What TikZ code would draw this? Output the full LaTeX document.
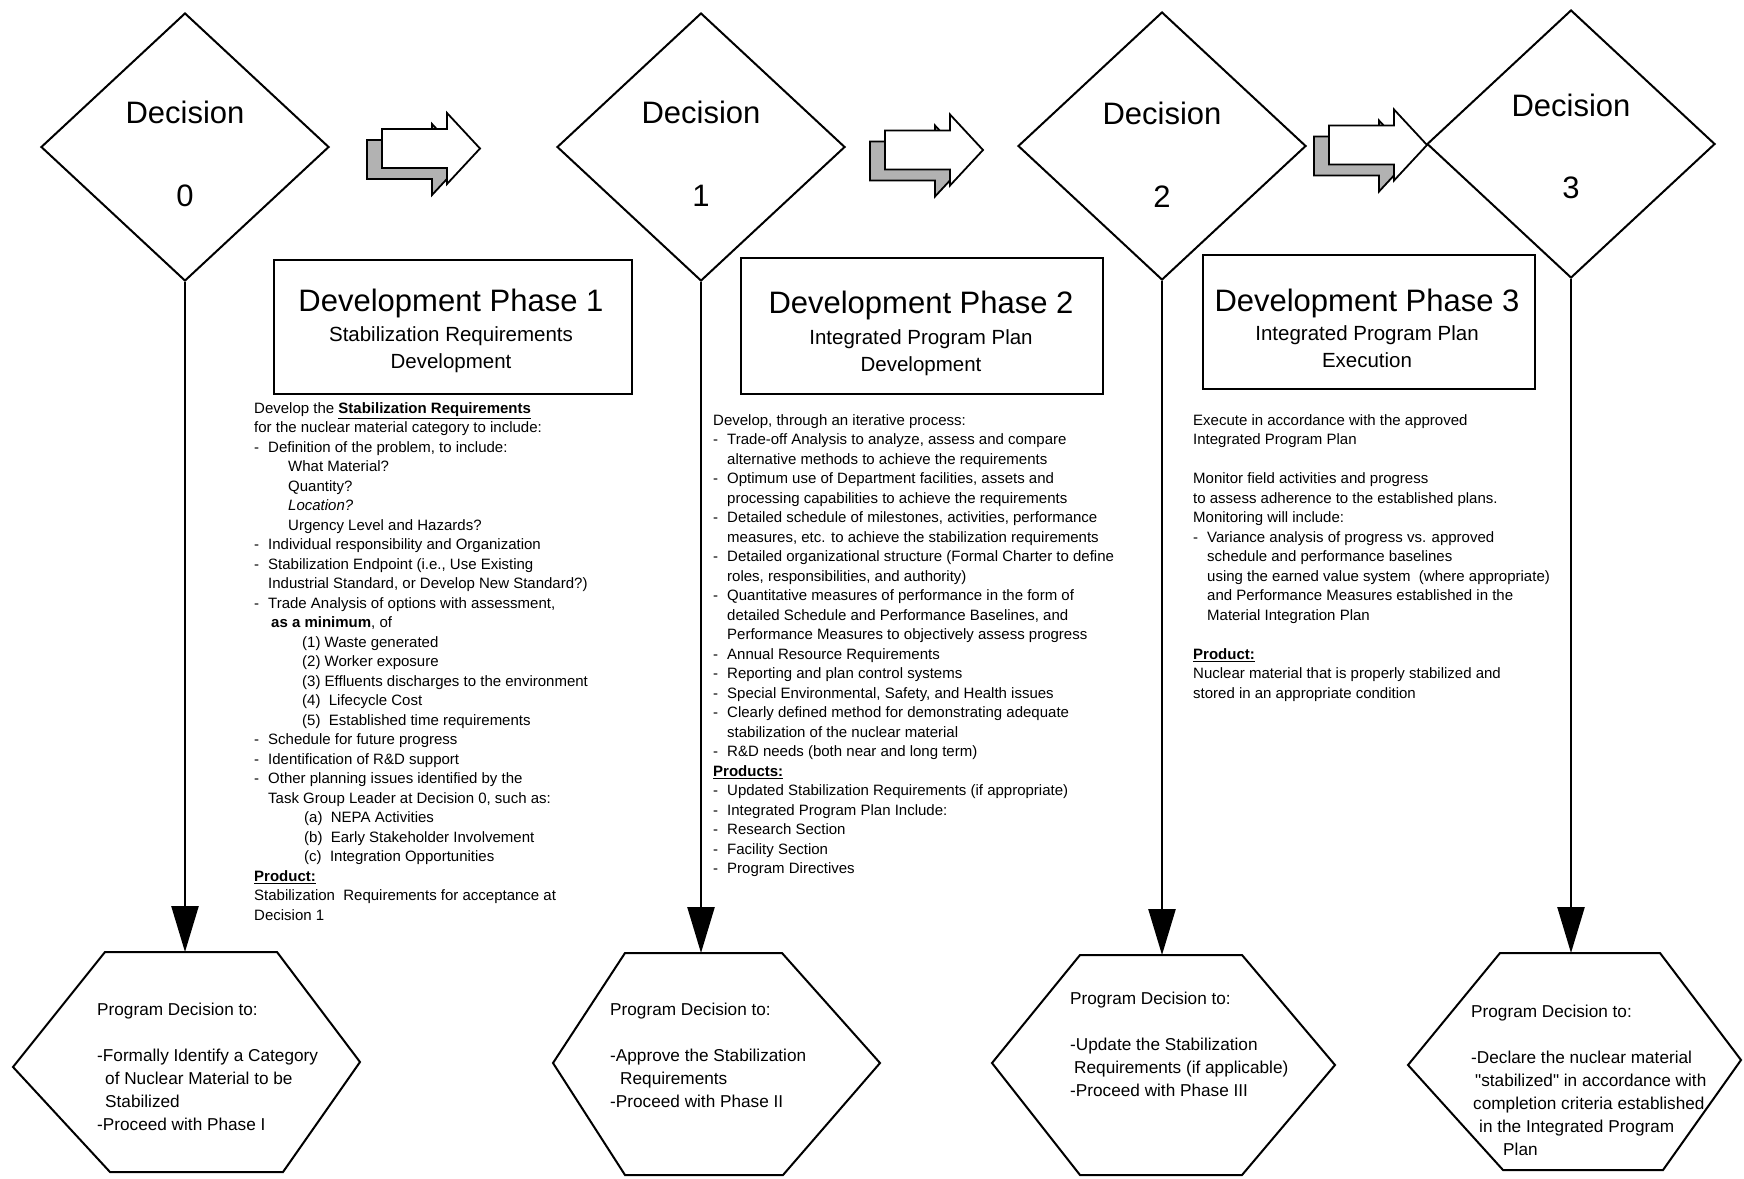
\documentclass[tikz,border=0pt]{standalone}
\usepackage{fontspec}
\setmainfont{Liberation Sans}
\usetikzlibrary{shapes.geometric,arrows.meta}
\newcommand{\dashitem}{\makebox[14pt][l]{-}}
\newcommand{\myind}{\hspace*{14pt}}
\newcommand{\bu}[1]{\underline{\textbf{#1}}}
\begin{document}
\begin{tikzpicture}[x=1pt,y=-1pt,
  decision/.style={draw,shape=diamond,minimum width=288pt,minimum height=268pt,inner sep=0pt,line width=2pt},
  dectext/.style={font=\fontsize{31}{31}\selectfont,inner sep=0pt},
  phasebox/.style={draw,rectangle,line width=2.4pt,inner sep=0pt},
  phasetitle/.style={font=\fontsize{31}{31}\selectfont,inner sep=0pt,anchor=base},
  phasesub/.style={font=\fontsize{20.5}{27.5}\selectfont,inner sep=0pt,anchor=north,align=center},
  bodytext/.style={font=\fontsize{15}{19.5}\selectfont,inner sep=0pt,anchor=north west,align=left},
  hextext/.style={font=\fontsize{17.2}{23}\selectfont,inner sep=0pt,anchor=north west,align=left},
  hexshape/.style={draw,line width=2pt,line join=miter},
  vline/.style={line width=2.5pt,-{Triangle[length=46pt,width=27pt]}},
  arrowshadow/.style={draw,line width=1.8pt,fill=black!30,line join=miter},
  arrowface/.style={draw,line width=1.8pt,fill=white,line join=miter},
  blockarrow/.pic={
    \path[arrowshadow] (-15,-8.5) -- (50,-8.5) -- (50,-24.5) -- (83,11) -- (50,46.5) -- (50,30.5) -- (-15,30.5) -- cycle;
    \path[arrowface] (0,-19.5) -- (65,-19.5) -- (65,-35.5) -- (98,0) -- (65,35.5) -- (65,19.5) -- (0,19.5) -- cycle;
  }
]
\useasboundingbox[fill=white] (0,0) rectangle (1744,1178);

% block arrows
\pic (arrA) at (382,148.5) {blockarrow};
\pic (arrB) at (885,150) {blockarrow};
\pic (arrC) at (1329,145) {blockarrow};

% decision diamonds
\node[decision] (d0) at (185,147) {};
\node[decision] (d1) at (701,147) {};
\node[decision] (d2) at (1162,146) {};
\node[decision] (d3) at (1571,144) {};
\node[dectext] (d0a) at (185,112) {Decision};
\node[dectext] (d0b) at (185,196) {0};
\node[dectext] (d1a) at (701,112) {Decision};
\node[dectext] (d1b) at (701,196) {1};
\node[dectext] (d2a) at (1162,113) {Decision};
\node[dectext] (d2b) at (1162,197) {2};
\node[dectext] (d3a) at (1571,105) {Decision};
\node[dectext] (d3b) at (1571,188) {3};

% phase boxes
\node[phasebox,minimum width=358pt,minimum height=134pt] (p1) at (453,327) {};
\node[phasebox,minimum width=362pt,minimum height=136pt] (p2) at (922,326) {};
\node[phasebox,minimum width=332pt,minimum height=134pt] (p3) at (1369,322) {};
\node[phasetitle] (p1t) at (451,311) {Development Phase 1};
\node[phasesub] (p1s) at (451,322) {\strut Stabilization Requirements\\Development};
\node[phasetitle] (p2t) at (921,313) {Development Phase 2};
\node[phasesub] (p2s) at (921,325) {\strut Integrated Program Plan\\Development};
\node[phasetitle] (p3t) at (1367,311) {Development Phase 3};
\node[phasesub] (p3s) at (1367,321) {\strut Integrated Program Plan\\Execution};

% body texts
\node[bodytext] (b1) at (254,399.4) {\strut Develop the \bu{Stabilization Requirements}\\
for the nuclear material category to include:\\
\dashitem Definition of the problem, to include:\\
\hspace*{34pt}What Material?\\
\hspace*{34pt}Quantity?\\
\hspace*{34pt}\textit{Location?}\\
\hspace*{34pt}Urgency Level and Hazards?\\
\dashitem Individual responsibility and Organization\\
\dashitem Stabilization Endpoint (i.e., Use Existing\\
\myind Industrial Standard, or Develop New Standard?)\\
\dashitem Trade Analysis of options with assessment,\\
\hspace*{17pt}\textbf{as a minimum}, of\\
\hspace*{48pt}(1) Waste generated\\
\hspace*{48pt}(2) Worker exposure\\
\hspace*{48pt}(3) Effluents discharges to the environment\\
\hspace*{48pt}(4)\ \ Lifecycle Cost\\
\hspace*{48pt}(5)\ \ Established time requirements\\
\dashitem Schedule for future progress\\
\dashitem Identification of R\&D support\\
\dashitem Other planning issues identified by the\\
\myind Task Group Leader at Decision 0, such as:\\
\hspace*{50pt}(a)\ \ NEPA Activities\\
\hspace*{50pt}(b)\ \ Early Stakeholder Involvement\\
\hspace*{50pt}(c)\ \ Integration Opportunities\\
\bu{Product:}\\
Stabilization\ \ Requirements for acceptance at\\
Decision 1};

\node[bodytext] (b2) at (713,411.4) {\strut Develop, through an iterative process:\\
\dashitem Trade-off Analysis to analyze, assess and compare\\
\myind alternative methods to achieve the requirements\\
\dashitem Optimum use of Department facilities, assets and\\
\myind processing capabilities to achieve the requirements\\
\dashitem Detailed schedule of milestones, activities, performance\\
\myind measures, etc. to achieve the stabilization requirements\\
\dashitem Detailed organizational structure (Formal Charter to define\\
\myind roles, responsibilities, and authority)\\
\dashitem Quantitative measures of performance in the form of\\
\myind detailed Schedule and Performance Baselines, and\\
\myind Performance Measures to objectively assess progress\\
\dashitem Annual Resource Requirements\\
\dashitem Reporting and plan control systems\\
\dashitem Special Environmental, Safety, and Health issues\\
\dashitem Clearly defined method for demonstrating adequate\\
\myind stabilization of the nuclear material\\
\dashitem R\&D needs (both near and long term)\\
\bu{Products:}\\
\dashitem Updated Stabilization Requirements (if appropriate)\\
\dashitem Integrated Program Plan Include:\\
\dashitem Research Section\\
\dashitem Facility Section\\
\dashitem Program Directives};

\node[bodytext] (b3) at (1193,411.4) {\strut Execute in accordance with the approved\\
Integrated Program Plan\\[19.5pt]
Monitor field activities and progress\\
to assess adherence to the established plans.\\
Monitoring will include:\\
\dashitem Variance analysis of progress vs. approved\\
\myind schedule and performance baselines\\
\myind using the earned value system\ \ (where appropriate)\\
\myind and Performance Measures established in the\\
\myind Material Integration Plan\\[19.5pt]
\bu{Product:}\\
Nuclear material that is properly stabilized and\\
stored in an appropriate condition};

% hexagons
\draw[hexshape] (105,952) -- (277,952) -- (360,1062) -- (283,1172) -- (110,1172) -- (13,1067) -- cycle;
\draw[hexshape] (625,953) -- (782,953) -- (880,1063) -- (783,1175) -- (625,1175) -- (553,1063) -- cycle;
\draw[hexshape] (1080,955) -- (1242,955) -- (1335,1065) -- (1242,1175) -- (1080,1175) -- (992,1063) -- cycle;
\draw[hexshape] (1500,953) -- (1660,953) -- (1741,1060) -- (1663,1170) -- (1503,1170) -- (1408,1065) -- cycle;
\coordinate (h0t) at (185,952);
\coordinate (h1t) at (701,953);
\coordinate (h2t) at (1162,955);
\coordinate (h3t) at (1571,953);

\node[hextext] (h0x) at (97,999) {\strut Program Decision to:\\[23pt]
-Formally Identify a Category\\
\hspace*{8pt}of Nuclear Material to be\\
\hspace*{8pt}Stabilized\\
-Proceed with Phase I};
\node[hextext] (h1x) at (610,999) {\strut Program Decision to:\\[23pt]
-Approve the Stabilization\\
\hspace*{10pt}Requirements\\
-Proceed with Phase II};
\node[hextext] (h2x) at (1070,988) {\strut Program Decision to:\\[23pt]
-Update the Stabilization\\
\hspace*{4pt}Requirements (if applicable)\\
-Proceed with Phase III};
\node[hextext] (h3x) at (1471,1001) {\strut Program Decision to:\\[23pt]
-Declare the nuclear material\\
\hspace*{4pt}\textquotedbl stabilized\textquotedbl{} in accordance with\\
\hspace*{2pt}completion criteria established\\
\hspace*{8pt}in the Integrated Program\\
\hspace*{32pt}Plan};

% connectors
\draw[vline] (d0.south) -- (h0t);
\draw[vline] (d1.south) -- (h1t);
\draw[vline] (d2.south) -- (h2t);
\draw[vline] (d3.south) -- (h3t);
\end{tikzpicture}
\end{document}
